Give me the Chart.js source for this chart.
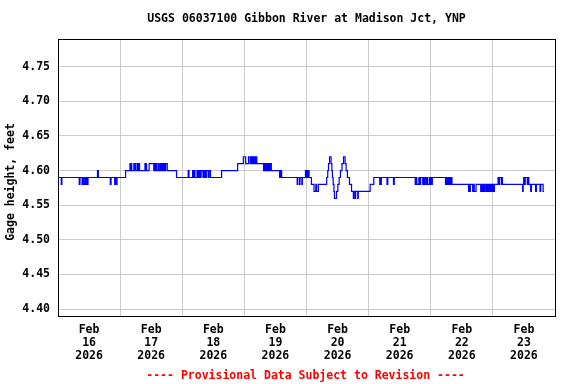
<!DOCTYPE html>
<html>
<head>
<meta charset="utf-8">
<script src="https://cdn.jsdelivr.net/npm/chart.js@4.4.1/dist/chart.umd.min.js"></script>
<style>
  html, body { margin: 0; padding: 0; background: #fff; }
</style>
</head>
<body>
<canvas id="chart" width="576" height="384"></canvas>
<script>
const chartTitle = 'USGS 06037100 Gibbon River at Madison Jct, YNP';
const yAxisTitle = 'Gage height, feet';
const footerText = '---- Provisional Data Subject to Revision ----';
const monthLabel = 'Feb';
const yearLabel = '2026';
const dayLabels = ['16', '17', '18', '19', '20', '21', '22', '23'];
const yTicks = [4.40, 4.45, 4.50, 4.55, 4.60, 4.65, 4.70, 4.75];

// hours since Feb 16 00:00; each reading holds until the next one
const hours = [
  0, 1.25, 1.5, 8.2, 8.5, 9.3, 9.6, 9.9, 10.4, 10.8, 11.1, 11.4, 11.6, 15.25, 15.6, 20.2, 20.5, 21.9, 22.1, 22.5, 22.8,
  26.1, 27.8, 28.1, 28.3, 28.5, 29.3, 29.6, 29.8, 30.0, 30.6, 30.9, 31.2, 31.5, 33.6, 33.8, 34.0, 34.2, 35.2, 37.0,
  37.4, 37.6, 37.9, 38.1, 38.7, 39.1, 39.6, 39.9, 40.1, 40.4, 40.6, 40.9, 41.1, 41.4, 41.6, 42.2, 45.8,
  50.3, 50.6, 52.0, 52.2, 52.6, 52.9, 53.7, 53.9, 54.2, 54.6, 54.8, 55.1, 55.3, 56.0, 56.2, 56.5, 56.7, 57.0, 57.3,
  58.0, 58.4, 58.9, 63.2, 69.4, 71.6,
  72.5, 73.6, 74.2, 74.6, 74.9, 75.2, 75.5, 75.9, 76.2, 76.5, 76.8, 79.4, 79.7, 79.9, 80.2, 80.4, 80.7, 80.9, 81.2,
  81.4, 81.7, 81.9, 82.2, 82.4, 85.6, 85.8, 86.0, 86.1, 86.4, 92.4, 92.6, 93.3, 93.5, 94.2, 94.4, 95.6, 95.8,
  96.2, 96.4, 96.6, 97.0, 97.9, 98.9, 99.6, 99.9, 100.6, 103.8, 104.2, 104.5, 104.9, 105.5, 105.8, 106.0, 106.3,
  106.6, 106.8, 107.6, 108.1, 108.6, 109.1, 109.7, 110.3, 110.9, 111.3, 111.8, 112.6, 113.4, 114.1, 114.3, 114.8,
  115.0, 115.8, 116.0,
  120.6, 122.0, 124.3, 124.5, 124.7, 124.9, 127.1, 127.4, 129.6, 129.9, 138.0, 138.3, 138.6, 139.4, 139.8, 140.1,
  140.9, 141.1, 141.4, 141.7, 142.2, 142.4, 142.7, 143.4, 143.7,
  144.0, 144.3, 144.6, 149.7, 149.9, 150.2, 150.4, 150.7, 150.9, 151.2, 151.4, 151.7, 151.9, 152.2, 158.6, 158.9,
  159.1, 159.3, 160.2, 160.5, 160.8, 161.5, 163.3, 163.6, 163.9, 164.2, 164.5, 164.8, 165.3, 165.6, 165.9, 166.2,
  166.5, 166.8, 167.2, 167.5, 167.8,
  168.1, 168.3, 168.6, 170.0, 170.3, 170.6, 171.3, 171.5, 171.7, 179.5, 179.7, 179.9, 180.1, 180.5, 181.3, 181.6,
  181.9, 182.6, 182.9, 184.5, 184.8, 186.2, 186.5, 187.4, 187.8
];
const gage = [
  4.59, 4.58, 4.59, 4.58, 4.59, 4.58, 4.59, 4.58, 4.59, 4.58, 4.59, 4.58, 4.59, 4.60, 4.59, 4.58, 4.59, 4.58, 4.59, 4.58, 4.59,
  4.60, 4.61, 4.60, 4.61, 4.60, 4.61, 4.60, 4.61, 4.60, 4.61, 4.60, 4.61, 4.60, 4.61, 4.60, 4.61, 4.60, 4.61, 4.60,
  4.61, 4.60, 4.61, 4.60, 4.61, 4.60, 4.61, 4.60, 4.61, 4.60, 4.61, 4.60, 4.61, 4.60, 4.61, 4.60, 4.59,
  4.60, 4.59, 4.60, 4.59, 4.60, 4.59, 4.60, 4.59, 4.60, 4.59, 4.60, 4.59, 4.60, 4.59, 4.60, 4.59, 4.60, 4.59, 4.60,
  4.59, 4.60, 4.59, 4.60, 4.61, 4.62,
  4.61, 4.62, 4.61, 4.62, 4.61, 4.62, 4.61, 4.62, 4.61, 4.62, 4.61, 4.60, 4.61, 4.60, 4.61, 4.60, 4.61, 4.60, 4.61,
  4.60, 4.61, 4.60, 4.61, 4.60, 4.59, 4.60, 4.59, 4.60, 4.59, 4.58, 4.59, 4.58, 4.59, 4.58, 4.59, 4.60, 4.59,
  4.60, 4.59, 4.60, 4.59, 4.58, 4.57, 4.58, 4.57, 4.58, 4.59, 4.60, 4.61, 4.62, 4.61, 4.60, 4.59, 4.58,
  4.57, 4.56, 4.57, 4.58, 4.59, 4.60, 4.61, 4.62, 4.61, 4.60, 4.59, 4.58, 4.57, 4.56, 4.57, 4.56,
  4.57, 4.56, 4.57,
  4.58, 4.59, 4.58, 4.59, 4.58, 4.59, 4.58, 4.59, 4.58, 4.59, 4.58, 4.59, 4.58, 4.59, 4.58, 4.59,
  4.58, 4.59, 4.58, 4.59, 4.58, 4.59, 4.58, 4.59, 4.58,
  4.59, 4.58, 4.59, 4.58, 4.59, 4.58, 4.59, 4.58, 4.59, 4.58, 4.59, 4.58, 4.59, 4.58, 4.57, 4.58,
  4.57, 4.58, 4.57, 4.58, 4.57, 4.58, 4.57, 4.58, 4.57, 4.58, 4.57, 4.58, 4.57, 4.58, 4.57, 4.58,
  4.57, 4.58, 4.57, 4.58, 4.57,
  4.58, 4.57, 4.58, 4.59, 4.58, 4.59, 4.58, 4.59, 4.58, 4.57, 4.58, 4.59, 4.58, 4.59, 4.58, 4.59,
  4.58, 4.57, 4.58, 4.57, 4.58, 4.57, 4.58, 4.57, 4.57
];

const fontFamily = "'DejaVu Sans Mono', monospace";
const fontSize = 11.5;

const points = hours.map((h, i) => ({ x: h, y: gage[i] }));

// frame, title, axis title and footer
const decorPlugin = {
  id: 'decor',
  afterDraw(chart) {
    const { ctx, chartArea: a } = chart;
    ctx.save();
    ctx.strokeStyle = '#000';
    ctx.lineWidth = 1;
    const l = Math.round(a.left), t = Math.round(a.top);
    ctx.strokeRect(l + 0.5, t + 0.5, Math.round(a.right) - l, Math.round(a.bottom) - t);

    ctx.font = `bold ${fontSize}px ${fontFamily}`;
    ctx.textAlign = 'center';
    ctx.textBaseline = 'middle';
    const cx = (a.left + a.right) / 2;
    ctx.fillStyle = '#000';
    ctx.fillText(chartTitle, cx, 19);
    ctx.fillStyle = '#ff0000';
    ctx.fillText(footerText, cx - 1, 376);

    ctx.fillStyle = '#000';
    ctx.translate(11, 182);
    ctx.rotate(-Math.PI / 2);
    ctx.fillText(yAxisTitle, 0, 0);
    ctx.restore();
  }
};

new Chart(document.getElementById('chart'), {
  type: 'line',
  data: {
    datasets: [{
      data: points,
      borderColor: '#0000ff',
      borderWidth: 1.2,
      pointRadius: 0,
      stepped: 'before',
      fill: false
    }]
  },
  options: {
    responsive: false,
    animation: false,
    layout: { padding: { top: 39, right: 21, left: 0, bottom: 0 } },
    plugins: {
      legend: { display: false },
      tooltip: { enabled: false },
      title: { display: false }
    },
    scales: {
      x: {
        type: 'linear',
        min: 0,
        max: dayLabels.length * 24,
        afterBuildTicks(scale) {
          const t = [];
          for (let h = 0; h <= dayLabels.length * 24; h += 12) t.push({ value: h });
          scale.ticks = t;
        },
        afterFit(scale) { scale.height = 68; },
        border: { display: false },
        grid: {
          color: c => (c.tick && c.tick.value % 24 === 0) ? '#cccccc' : 'rgba(0,0,0,0)',
          lineWidth: 1,
          drawTicks: false
        },
        ticks: {
          autoSkip: false,
          maxRotation: 0,
          padding: 8,
          color: '#000',
          font: { family: fontFamily, size: fontSize, weight: 'bold', lineHeight: 1.13 },
          callback(value) {
            if (value % 24 !== 12) return '';
            return [monthLabel, dayLabels[(value - 12) / 24], yearLabel];
          }
        }
      },
      y: {
        type: 'linear',
        min: 4.39,
        max: 4.79,
        afterBuildTicks(scale) {
          scale.ticks = yTicks.map(v => ({ value: v }));
        },
        afterFit(scale) { scale.width = 58; },
        border: { display: false },
        grid: { color: '#cccccc', lineWidth: 1, drawTicks: false },
        ticks: {
          padding: 8,
          color: '#000',
          font: { family: fontFamily, size: fontSize, weight: 'bold' },
          callback: v => v.toFixed(2)
        }
      }
    }
  },
  plugins: [decorPlugin]
});
</script>
</body>
</html>
